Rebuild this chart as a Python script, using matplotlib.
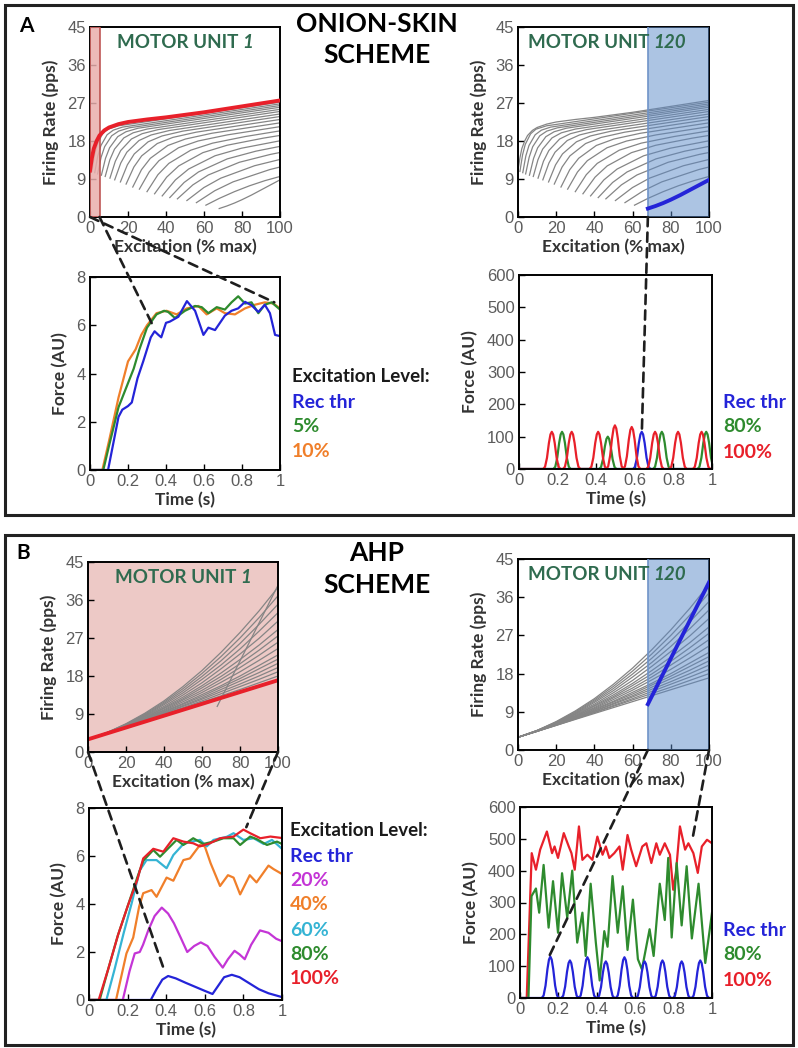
import numpy as np
import matplotlib.pyplot as plt
from matplotlib.patches import Rectangle, ConnectionPatch

W, H = 798, 1048

plt.rcParams['font.family'] = ['Liberation Sans', 'DejaVu Sans']
BOLD = ['Lato', 'DejaVu Sans']

# ---------------- data ----------------
EXC_TICKS = [0, 20, 40, 60, 80, 100]
FR_TICKS = [0, 9, 18, 27, 36, 45]
T_TICKS = [0, 0.2, 0.4, 0.6, 0.8, 1]
T_LABELS = ['0', '0.2', '0.4', '0.6', '0.8', '1']

# onion-skin firing rate curves, one per motor unit (first = MU 1, last = MU 120)
onion_x = [
    [0, 1, 2, 3.5, 5, 7.5, 10, 15, 20, 30, 40, 50, 60, 70, 80, 90, 100],
    [1, 2.4, 3.8, 6.6, 9.4, 15, 100],
    [2.5, 4.1, 5.75, 9, 12.25, 17.1, 100],
    [4, 5.85, 7.7, 11.4, 15.1, 20.65, 100],
    [6, 8.15, 10.3, 14.6, 18.9, 25.35, 100],
    [8, 10.45, 12.9, 17.8, 22.7, 30.05, 100],
    [10.5, 13.33, 16.15, 21.8, 27.45, 35.9, 100],
    [13, 16.2, 19.4, 25.8, 32.2, 41.8, 100],
    [16, 19.65, 23.3, 30.6, 37.9, 48.85, 100],
    [19, 23.1, 27.2, 35.4, 43.6, 55.9, 100],
    [22.5, 27.1, 31.75, 41, 50.25, 64.1, 100],
    [26, 31.15, 36.3, 46.6, 56.9, 72.35, 100],
    [30, 35.75, 41.5, 53, 64.5, 81.75, 100],
    [34, 40.35, 46.7, 59.4, 72.1, 91.15, 100],
    [38, 44.95, 51.9, 65.8, 79.7, 100],
    [42, 49.55, 57.1, 72.2, 87.3, 100],
    [46, 54.15, 62.3, 78.6, 94.9, 100],
    [51, 59.9, 68.8, 86.6, 100],
    [56, 65.65, 75.3, 94.6, 100],
    [61, 68, 76, 84, 92, 100],
    [68, 72, 76, 80, 85, 90, 95, 100],
]
onion_y = [
    [11, 14, 16.2, 18, 19.3, 20.5, 21.2, 22, 22.5, 23.1, 23.6, 24.2, 24.8, 25.5, 26.2, 26.9, 27.6],
    [10.8, 14.75, 17.2, 19.7, 20.8, 21.6, 27.2],
    [10.5, 14.46, 16.93, 19.48, 20.57, 21.29, 26.8],
    [10.2, 14.16, 16.65, 19.23, 20.35, 21.12, 26.4],
    [9.9, 13.88, 16.39, 19.03, 20.19, 21.03, 26.0],
    [9.6, 13.56, 16.07, 18.73, 19.94, 20.83, 25.5],
    [9.2, 13.2, 15.74, 18.47, 19.73, 20.7, 25.0],
    [8.8, 12.79, 15.35, 18.12, 19.43, 20.49, 24.4],
    [8.3, 12.34, 14.94, 17.81, 19.19, 20.34, 23.8],
    [7.8, 11.85, 14.48, 17.4, 18.85, 20.09, 23.1],
    [7.1, 11.21, 13.9, 16.94, 18.47, 19.83, 22.3],
    [6.6, 10.66, 13.34, 16.4, 18.0, 19.45, 21.4],
    [6.0, 10.02, 12.7, 15.82, 17.49, 19.06, 20.4],
    [5.5, 9.44, 12.1, 15.24, 16.99, 18.67, 19.32],
    [5.0, 8.78, 11.36, 14.5, 16.29, 18.05],
    [4.6, 8.18, 10.67, 13.76, 15.59, 16.73],
    [4.3, 7.61, 9.96, 12.96, 14.82, 15.28],
    [3.9, 6.96, 9.19, 12.14, 13.63],
    [3.4, 6.22, 8.32, 11.23, 11.84],
    [2.8, 4.4, 6.0, 7.4, 8.6, 9.6],
    [2.0, 2.6, 3.3, 4.1, 5.2, 6.4, 7.6, 8.8],
]

# AHP scheme firing rate curves
ahp_x = [0, 10, 20, 30, 40, 50, 60, 70, 80, 90, 100]
ahp_y = [
    [3, 4.4, 5.8, 7.3, 8.8, 10.3, 11.8, 13.3, 14.8, 16.4, 18],
    [3, 4.4, 5.9, 7.4, 8.9, 10.5, 12.1, 13.8, 15.5, 17.2, 19],
    [3, 4.4, 5.9, 7.5, 9.1, 10.8, 12.5, 14.3, 16.1, 18.0, 20],
    [3, 4.4, 6.0, 7.6, 9.2, 11.0, 12.8, 14.8, 16.8, 18.8, 21],
    [3, 4.5, 6.0, 7.7, 9.4, 11.3, 13.2, 15.3, 17.4, 19.7, 22],
    [3, 4.5, 6.0, 7.7, 9.6, 11.5, 13.6, 15.7, 18.0, 20.5, 23],
    [3, 4.5, 6.1, 7.9, 9.8, 11.9, 14.1, 16.5, 19.0, 21.7, 24.5],
    [3, 4.5, 6.2, 8.0, 10.0, 12.3, 14.6, 17.2, 20.0, 22.9, 26],
    [3, 4.5, 6.2, 8.1, 10.3, 12.6, 15.2, 17.9, 20.9, 24.1, 27.5],
    [3, 4.5, 6.3, 8.3, 10.5, 13.0, 15.7, 18.7, 21.9, 25.3, 29],
    [3, 4.5, 6.4, 8.5, 10.8, 13.5, 16.4, 19.7, 23.2, 26.9, 31],
    [3, 4.6, 6.4, 8.6, 11.2, 14.0, 17.2, 20.6, 24.4, 28.6, 33],
    [3, 4.6, 6.5, 8.8, 11.5, 14.5, 17.9, 21.6, 25.7, 30.2, 35],
    [3, 4.6, 6.6, 9.0, 11.8, 15.0, 18.6, 22.6, 27.0, 31.8, 37],
    [3, 4.6, 6.7, 9.2, 12.1, 15.5, 19.3, 23.6, 28.3, 33.4, 39],
]
ahp_mu1_x, ahp_mu1_y = [0, 100], [3, 17]
ahp_mu120_x, ahp_mu120_y = [68, 100], [10.8, 39.5]

# A: onion-skin force, MU 1
oa_blue_t = [0, 0.095, 0.12, 0.15, 0.17, 0.2, 0.22, 0.25, 0.28, 0.32, 0.34, 0.36, 0.375, 0.4, 0.42,
             0.465, 0.51, 0.553, 0.597, 0.623, 0.658, 0.71, 0.745, 0.78, 0.816, 0.85, 0.886, 0.92,
             0.947, 0.974, 1.0]
oa_blue_y = [0, 0, 1.0, 2.2, 2.5, 2.65, 2.8, 3.8, 4.5, 5.5, 5.75, 5.6, 5.5, 6.1, 6.15,
             6.35, 7.0, 6.6, 5.6, 5.9, 5.8, 6.4, 6.6, 6.7, 6.97, 6.83, 6.55, 6.85,
             6.5, 5.6, 5.55]
oa_green_t = [0, 0.07, 0.1, 0.15, 0.2, 0.23, 0.26, 0.3, 0.35, 0.39, 0.412, 0.447, 0.5, 0.553, 0.588,
              0.623, 0.667, 0.71, 0.745, 0.78, 0.816, 0.85, 0.886, 0.92, 0.956, 1.0]
oa_green_y = [0, 0, 1.0, 2.6, 3.6, 4.2, 5.0, 5.9, 6.45, 6.6, 6.55, 6.3, 6.6, 6.8, 6.75,
              6.5, 6.75, 6.65, 6.95, 7.2, 6.9, 6.95, 6.5, 6.85, 6.95, 6.65]
oa_orange_t = [0, 0.065, 0.1, 0.15, 0.2, 0.24, 0.27, 0.3, 0.35, 0.403, 0.456, 0.51, 0.57, 0.614,
               0.667, 0.71, 0.763, 0.816, 0.868, 0.92, 0.965, 1.0]
oa_orange_y = [0, 0, 1.2, 3.0, 4.5, 5.0, 5.6, 6.0, 6.5, 6.6, 6.45, 6.7, 6.8, 6.45,
               6.7, 6.5, 6.45, 6.7, 6.85, 6.95, 6.9, 6.7]

# A: onion-skin force, MU 120 (single twitches)
twitch_dt = [-0.045, -0.035, -0.025, -0.015, -0.007, 0, 0.007, 0.015, 0.025, 0.035, 0.045]
twitch_rel = [0, 0.06, 0.3, 0.7, 0.93, 1, 0.93, 0.7, 0.3, 0.06, 0]
ob_blue_peaks, ob_blue_amp = [0.636], [115]
ob_green_peaks, ob_green_amp = [0.223, 0.46, 0.74, 0.97], [115, 100, 115, 115]
ob_red_peaks = [0.17, 0.273, 0.41, 0.497, 0.584, 0.705, 0.824, 0.946]
ob_red_amp = [115, 115, 115, 135, 130, 115, 115, 115]

# B: AHP force, MU 1
ba_blue_t = [0, 0.32, 0.35, 0.38, 0.41, 0.45, 0.5, 0.55, 0.6, 0.64, 0.67, 0.7, 0.74, 0.78, 0.83,
             0.88, 0.93, 1.0]
ba_blue_y = [0, 0, 0.45, 0.85, 1.0, 0.9, 0.72, 0.55, 0.38, 0.25, 0.6, 0.95, 1.05, 0.95, 0.7,
             0.45, 0.28, 0.12]
ba_mag_t = [0, 0.175, 0.21, 0.237, 0.263, 0.28, 0.307, 0.34, 0.377, 0.41, 0.44, 0.475, 0.509,
            0.545, 0.579, 0.614, 0.65, 0.693, 0.72, 0.754, 0.78, 0.807, 0.84, 0.886, 0.93, 0.97, 1.0]
ba_mag_y = [0, 0, 1.2, 1.94, 2.0, 2.3, 2.9, 3.5, 3.85, 3.6, 3.2, 2.6, 2.0,
            2.25, 2.4, 2.25, 1.8, 1.35, 1.7, 2.05, 1.9, 1.7, 2.3, 2.9, 2.8, 2.55, 2.45]
ba_orange_t = [0, 0.14, 0.194, 0.229, 0.26, 0.281, 0.324, 0.35, 0.402, 0.437, 0.489, 0.523, 0.575,
               0.6, 0.63, 0.679, 0.72, 0.749, 0.783, 0.833, 0.868, 0.93, 0.957, 1.0]
ba_orange_y = [0, 0, 1.94, 2.6, 3.9, 4.45, 4.58, 4.3, 5.1, 4.97, 5.83, 5.9, 6.46,
               6.4, 5.7, 4.75, 5.2, 5.1, 4.4, 5.2, 4.9, 5.6, 5.45, 5.25]
ba_cyan_t = [0, 0.09, 0.13, 0.18, 0.22, 0.263, 0.298, 0.35, 0.402, 0.437, 0.489, 0.532, 0.575,
             0.61, 0.645, 0.714, 0.749, 0.8, 0.853, 0.905, 0.948, 1.0]
ba_cyan_y = [0, 0, 1.2, 2.8, 4.0, 5.4, 5.83, 5.83, 5.49, 6.04, 6.5, 6.6, 6.67,
             6.4, 6.67, 6.8, 6.95, 6.67, 6.74, 6.5, 6.67, 6.3]
ba_green_t = [0, 0.055, 0.1, 0.15, 0.2, 0.25, 0.281, 0.333, 0.368, 0.402, 0.454, 0.489, 0.54,
              0.592, 0.645, 0.697, 0.749, 0.783, 0.835, 0.87, 0.922, 0.974, 1.0]
ba_green_y = [0, 0, 1.3, 2.7, 3.9, 5.1, 5.8, 6.25, 5.97, 6.25, 6.67, 6.46, 6.74,
              6.5, 6.6, 6.74, 6.74, 6.46, 6.81, 6.7, 6.46, 6.6, 6.5]
ba_red_t = [0, 0.05, 0.1, 0.15, 0.2, 0.25, 0.281, 0.333, 0.385, 0.437, 0.489, 0.54, 0.575, 0.627,
            0.679, 0.749, 0.8, 0.835, 0.888, 0.94, 1.0]
ba_red_y = [0, 0, 1.3, 2.7, 3.9, 5.0, 5.9, 6.3, 6.18, 6.74, 6.6, 6.53, 6.4, 6.53,
            6.74, 6.81, 7.1, 6.95, 6.74, 6.81, 6.75]

# B: AHP force, MU 120
bb_blue_peaks = [0.158, 0.26, 0.351, 0.447, 0.544, 0.649, 0.742, 0.842, 0.939]
bb_blue_amp = [130, 118, 128, 115, 128, 115, 118, 115, 118]
bb_green_t = [0, 0.044, 0.06, 0.083, 0.1, 0.123, 0.149, 0.172, 0.198, 0.219, 0.246, 0.272, 0.298,
              0.325, 0.342, 0.368, 0.395, 0.415, 0.439, 0.456, 0.482, 0.509, 0.535, 0.56, 0.588,
              0.614, 0.635, 0.675, 0.696, 0.728, 0.754, 0.772, 0.79, 0.816, 0.842, 0.868, 0.895,
              0.93, 0.965, 1.0]
bb_green_y = [0, 0, 320, 344, 268, 418, 221, 367, 205, 392, 252, 400, 174,
              268, 132, 359, 174, 55, 210, 161, 383, 205, 351, 151, 309,
              122, 90, 216, 132, 359, 245, 440, 190, 424, 228, 414, 187,
              359, 110, 268]
bb_red_t = [0, 0.035, 0.061, 0.083, 0.105, 0.14, 0.167, 0.18, 0.198, 0.228, 0.254, 0.268, 0.285,
            0.307, 0.325, 0.351, 0.377, 0.403, 0.43, 0.447, 0.465, 0.491, 0.518, 0.535, 0.56,
            0.579, 0.605, 0.637, 0.658, 0.684, 0.71, 0.728, 0.754, 0.781, 0.798, 0.812, 0.833,
            0.86, 0.877, 0.903, 0.926, 0.947, 0.974, 1.0]
bb_red_y = [0, 0, 455, 403, 466, 523, 455, 476, 440, 518, 476, 455, 403,
            539, 434, 450, 434, 507, 450, 476, 440, 455, 476, 403, 512,
            466, 414, 476, 486, 424, 486, 450, 486, 450, 340, 393, 539,
            466, 486, 455, 393, 476, 497, 486]

# ---------------- drawing ----------------
C_BLUE = '#2424d8'
C_GREEN = '#2e8b2e'
C_ORANGE = '#f07f2a'
C_RED = '#e8202a'
C_MAG = '#c435d6'
C_CYAN = '#35b4d4'
C_GRAY = '#858585'
C_MU = '#2f6b4f'

fig = plt.figure(figsize=(W / 100, H / 100), dpi=100)


def px_axes(l, t, r, b):
    return fig.add_axes([l / W, 1 - b / H, (r - l) / W, (b - t) / H])


def ftext(x, y, s, **kw):
    fig.text(x / W, 1 - y / H, s, family=BOLD, fontweight='bold', va='center', **kw)


def style(ax, xlim, ylim, xticks, yticks, xlabel, ylabel, xtl=None):
    ax.set_xlim(xlim)
    ax.set_ylim(ylim)
    ax.set_xticks(xticks)
    ax.set_yticks(yticks)
    if xtl is not None:
        ax.set_xticklabels(xtl)
    ax.tick_params(direction='in', length=4, width=1, colors='black',
                   labelcolor='#5c5c5c', labelsize=12, pad=3)
    for s in ax.spines.values():
        s.set_linewidth(1.4)
    ax.set_xlabel(xlabel, family=BOLD, fontweight='bold', fontsize=12.5, color='#333333', labelpad=2)
    ax.set_ylabel(ylabel, family=BOLD, fontweight='bold', fontsize=12.5, color='#333333', labelpad=6)


def mu_title(ax, split, num):
    ax.text(split - 0.01, 0.92, 'MOTOR UNIT', transform=ax.transAxes, ha='right', va='center',
            family=BOLD, fontweight='bold', fontsize=13.5, color=C_MU, zorder=10)
    ax.text(split + 0.01, 0.92, num, transform=ax.transAxes, ha='left', va='center',
            family=BOLD, fontweight='bold', fontstyle='italic', fontsize=13.5, color=C_MU, zorder=10)


def pulse_train(peaks, amps):
    t, y = [0.0], [0.0]
    for p, a in zip(peaks, amps):
        t += [p + d for d in twitch_dt]
        y += [a * r for r in twitch_rel]
    if t[-1] < 1.0:
        t.append(1.0)
        y.append(0.0)
    return t, y


def dashed(axA, xyA, axB, xyB):
    con = ConnectionPatch(xyA=xyA, coordsA='data', axesA=axA, xyB=xyB, coordsB='data', axesB=axB,
                          color='#1e1e1e', lw=1.9, linestyle=(0, (3.5, 2.4)), zorder=20)
    fig.add_artist(con)


# outer frames
for top, bot in [(5, 515), (535, 1045)]:
    fig.add_artist(Rectangle((5 / W, 1 - bot / H), 788 / W, (bot - top) / H, transform=fig.transFigure,
                             fill=False, lw=2.2, edgecolor='#222222'))

ftext(26, 26, 'A', ha='center', fontsize=15)
ftext(23, 553, 'B', ha='center', fontsize=15)
ftext(377, 24, 'ONION-SKIN', ha='center', fontsize=19)
ftext(377, 55, 'SCHEME', ha='center', fontsize=19)
ftext(377, 553, 'AHP', ha='center', fontsize=19)
ftext(377, 585, 'SCHEME', ha='center', fontsize=19)

# ---- A top-left: onion skin, MU 1 ----
ax1 = px_axes(90, 27, 280, 217)
for i in range(1, len(onion_x)):
    ax1.plot(onion_x[i], onion_y[i], color=C_GRAY, lw=0.9, zorder=2)
ax1.axvspan(0, 5, facecolor='#e9aeac', edgecolor='#b94a48', lw=1.3, alpha=0.85, zorder=3)
ax1.plot(onion_x[0], onion_y[0], color=C_RED, lw=2.8, zorder=5)
style(ax1, (0, 100), (0, 45), EXC_TICKS, FR_TICKS, 'Excitation (% max)', 'Firing Rate (pps)')
mu_title(ax1, 0.79, '1')

# ---- A top-right: onion skin, MU 120 ----
ax2 = px_axes(518, 27, 709, 217)
for i in range(len(onion_x) - 1):
    ax2.plot(onion_x[i], onion_y[i], color=C_GRAY, lw=0.9, zorder=2)
ax2.axvspan(68, 100, facecolor='#5b8ac8', alpha=0.5, lw=0, zorder=3)
ax2.axvline(68, color='#6f93c8', lw=1.2, zorder=3)
ax2.plot(onion_x[-1], onion_y[-1], color=C_BLUE, lw=2.8, zorder=5)
style(ax2, (0, 100), (0, 45), EXC_TICKS, FR_TICKS, 'Excitation (% max)', 'Firing Rate (pps)')
mu_title(ax2, 0.70, '120')

# ---- A bottom-left: force MU 1 ----
ax3 = px_axes(90, 277, 280, 470)
ax3.plot(oa_orange_t, oa_orange_y, color=C_ORANGE, lw=1.6)
ax3.plot(oa_green_t, oa_green_y, color=C_GREEN, lw=1.6)
ax3.plot(oa_blue_t, oa_blue_y, color=C_BLUE, lw=1.6)
style(ax3, (0, 1), (0, 8), T_TICKS, [0, 2, 4, 6, 8], 'Time (s)', 'Force (AU)', T_LABELS)

# ---- A bottom-right: force MU 120 ----
ax4 = px_axes(519, 275, 712, 469)
for peaks, amps, col in [(ob_blue_peaks, ob_blue_amp, C_BLUE),
                         (ob_green_peaks, ob_green_amp, C_GREEN),
                         (ob_red_peaks, ob_red_amp, C_RED)]:
    t, y = pulse_train(peaks, amps)
    ax4.plot(t, y, color=col, lw=1.6)
style(ax4, (0, 1), (0, 600), T_TICKS, [0, 100, 200, 300, 400, 500, 600], 'Time (s)', 'Force (AU)',
      T_LABELS)

# ---- B top-left: AHP, MU 1 ----
ax5 = px_axes(88, 562, 278, 752)
ax5.set_facecolor('#edc9c6')
for ys in ahp_y:
    ax5.plot(ahp_x, ys, color=C_GRAY, lw=0.9)
ax5.plot(ahp_mu120_x, ahp_mu120_y, color=C_GRAY, lw=0.9)
ax5.plot(ahp_mu1_x, ahp_mu1_y, color=C_RED, lw=2.8)
style(ax5, (0, 100), (0, 45), EXC_TICKS, FR_TICKS, 'Excitation (% max)', 'Firing Rate (pps)')
mu_title(ax5, 0.79, '1')

# ---- B top-right: AHP, MU 120 ----
ax6 = px_axes(518, 559, 709, 750)
for ys in ahp_y:
    ax6.plot(ahp_x, ys, color=C_GRAY, lw=0.9, zorder=2)
ax6.plot(ahp_mu1_x, ahp_mu1_y, color=C_GRAY, lw=0.9, zorder=2)
ax6.axvspan(68, 100, facecolor='#5b8ac8', alpha=0.5, lw=0, zorder=3)
ax6.axvline(68, color='#6f93c8', lw=1.2, zorder=3)
ax6.plot(ahp_mu120_x, ahp_mu120_y, color=C_BLUE, lw=2.8, zorder=5)
style(ax6, (0, 100), (0, 45), EXC_TICKS, FR_TICKS, 'Excitation (% max)', 'Firing Rate (pps)')
mu_title(ax6, 0.70, '120')

# ---- B bottom-left: force MU 1 ----
ax7 = px_axes(89, 808, 282, 1000)
ax7.plot(ba_blue_t, ba_blue_y, color=C_BLUE, lw=1.6)
ax7.plot(ba_mag_t, ba_mag_y, color=C_MAG, lw=1.6)
ax7.plot(ba_orange_t, ba_orange_y, color=C_ORANGE, lw=1.6)
ax7.plot(ba_cyan_t, ba_cyan_y, color=C_CYAN, lw=1.6)
ax7.plot(ba_green_t, ba_green_y, color=C_GREEN, lw=1.6)
ax7.plot(ba_red_t, ba_red_y, color=C_RED, lw=1.6)
style(ax7, (0, 1), (0, 8), T_TICKS, [0, 2, 4, 6, 8], 'Time (s)', 'Force (AU)', T_LABELS)

# ---- B bottom-right: force MU 120 ----
ax8 = px_axes(520, 807, 712, 998)
ax8.plot(bb_red_t, bb_red_y, color=C_RED, lw=1.6)
ax8.plot(bb_green_t, bb_green_y, color=C_GREEN, lw=1.6)
t, y = pulse_train(bb_blue_peaks, bb_blue_amp)
ax8.plot(t, y, color=C_BLUE, lw=1.6)
style(ax8, (0, 1), (0, 600), T_TICKS, [0, 100, 200, 300, 400, 500, 600], 'Time (s)', 'Force (AU)',
      T_LABELS)

# zoom guide lines
dashed(ax1, (5, 0), ax3, (0.33, 6.0))
dashed(ax1, (0, 0), ax3, (0.97, 6.95))
dashed(ax2, (68, 0), ax4, (0.637, 125))
dashed(ax5, (0, 0), ax7, (0.385, 1.35))
dashed(ax5, (100, 0), ax7, (0.815, 7.2))
dashed(ax6, (68, 0), ax8, (0.155, 135))
dashed(ax6, (100, 0), ax8, (0.9, 505))

# excitation-level keys
ftext(292, 377, 'Excitation Level:', ha='left', fontsize=13.5, color='#1a1a1a')
for lab, col, yy in [('Rec thr', C_BLUE, 402), ('5%', C_GREEN, 426), ('10%', C_ORANGE, 451)]:
    ftext(292, yy, lab, ha='left', fontsize=14, color=col)
for lab, col, yy in [('Rec thr', C_BLUE, 402), ('80%', C_GREEN, 427), ('100%', C_RED, 452)]:
    ftext(723, yy, lab, ha='left', fontsize=14, color=col)
ftext(290, 830, 'Excitation Level:', ha='left', fontsize=13.5, color='#1a1a1a')
for lab, col, yy in [('Rec thr', C_BLUE, 856), ('20%', C_MAG, 880), ('40%', C_ORANGE, 905),
                     ('60%', C_CYAN, 930), ('80%', C_GREEN, 954), ('100%', C_RED, 979)]:
    ftext(290, yy, lab, ha='left', fontsize=14, color=col)
for lab, col, yy in [('Rec thr', C_BLUE, 930), ('80%', C_GREEN, 955), ('100%', C_RED, 980)]:
    ftext(723, yy, lab, ha='left', fontsize=14, color=col)

fig.savefig('out.png', dpi=100)
